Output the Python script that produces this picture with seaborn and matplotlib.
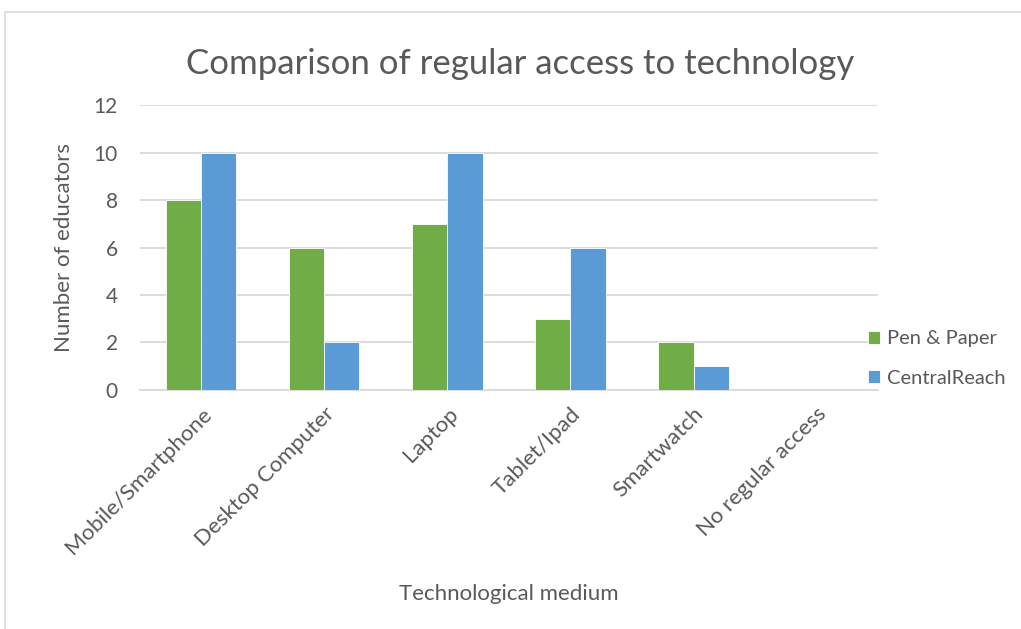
import matplotlib.pyplot as plt
import pandas as pd
import seaborn as sns
from matplotlib.patches import Rectangle

categories = ["Mobile/Smartphone", "Desktop Computer", "Laptop", "Tablet/Ipad", "Smartwatch", "No regular access"]
pen_paper = [8, 6, 7, 3, 2, 0]
central_reach = [10, 2, 10, 6, 1, 0]
series_names = ["Pen & Paper", "CentralReach"]

df = pd.DataFrame({
    "medium": categories * 2,
    "count": pen_paper + central_reach,
    "series": [series_names[0]] * len(categories) + [series_names[1]] * len(categories),
})

sns.set_style("white")
plt.rcParams['font.family'] = ['Lato', 'DejaVu Sans']
txt = '#595959'

fig = plt.figure(figsize=(10.21, 6.29), dpi=100)
ax = fig.add_axes([0.137, 0.380, 0.723, 0.453])

sns.barplot(data=df, x="medium", y="count", hue="series", palette=['#70AD47', '#5B9BD5'],
            saturation=1, width=0.57, edgecolor='white', linewidth=0.6, ax=ax, zorder=3)

ax.set_ylim(0, 12)
ax.set_yticks(range(0, 13, 2))
ax.yaxis.grid(True, color='#D9D9D9', linewidth=1.3, zorder=0)
ax.set_axisbelow(True)
for s in ['top', 'right', 'left']:
    ax.spines[s].set_visible(False)
ax.spines['bottom'].set_color('#D9D9D9')
ax.spines['bottom'].set_linewidth(1.3)
ax.tick_params(axis='both', length=0, colors=txt, labelsize=15)
ax.tick_params(axis='y', pad=16)
ax.set_xticks(range(len(categories)))
ax.set_xticklabels(categories, rotation=45, ha='right', rotation_mode='anchor', fontsize=16)
ax.tick_params(axis='x', pad=10)

ax.set_xlabel("Technological medium", fontsize=16, color=txt)
ax.set_ylabel("Number of educators", fontsize=16, color=txt, labelpad=14)
ax.xaxis.set_label_coords(0.5, -0.68)
ax.set_title("Comparison of regular access to technology", fontsize=25, color=txt, pad=22, x=0.515)

handles, labels = ax.get_legend_handles_labels()
fig.legend(handles, labels, loc='center left', bbox_to_anchor=(0.832, 0.43), frameon=False,
           fontsize=14.5, labelcolor=txt, handlelength=0.6, handleheight=0.6, handletextpad=0.35,
           labelspacing=1.1)
ax.get_legend().remove()

fig.add_artist(Rectangle((5 / 1021, -0.01), 1.02, 1 - 12 / 629 + 0.01, transform=fig.transFigure,
                         fill=False, edgecolor='#D9D9D9', linewidth=1.2))

fig.savefig("out.png", dpi=100)
